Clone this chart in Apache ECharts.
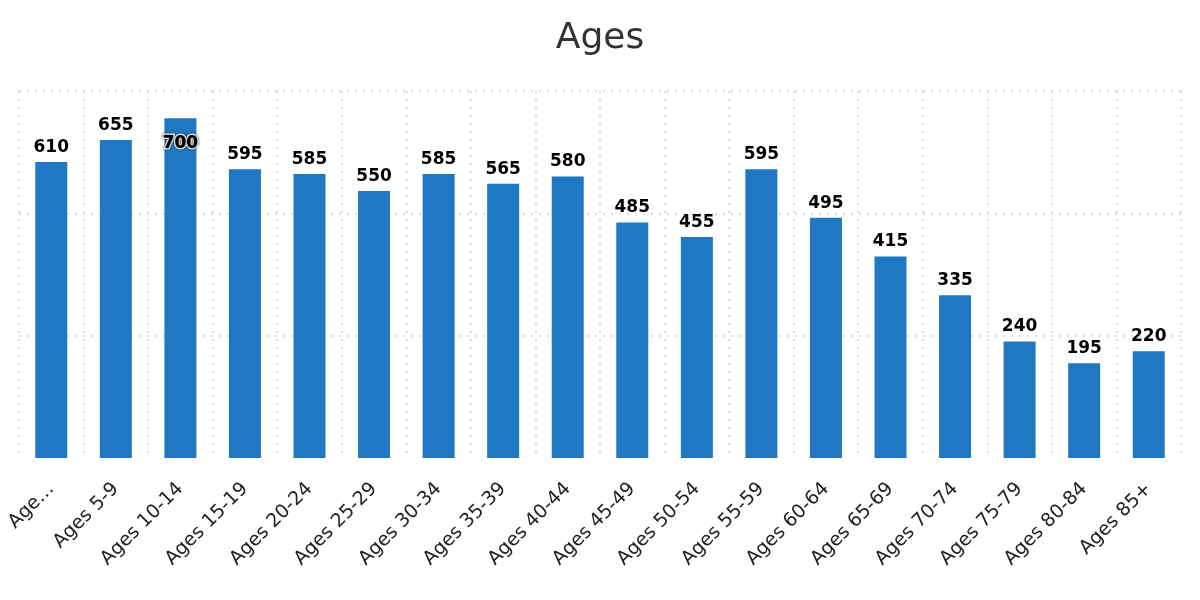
<!DOCTYPE html>
<html>
<head>
<meta charset="utf-8">
<script src="https://cdn.jsdelivr.net/npm/echarts@6/dist/echarts.min.js"></script>
<style>html,body{margin:0;padding:0;background:#fff}#c{width:1200px;height:600px}</style>
</head>
<body>
<div id="c"></div>
<script>
var categories = ['Ages 0-4','Ages 5-9','Ages 10-14','Ages 15-19','Ages 20-24','Ages 25-29','Ages 30-34','Ages 35-39','Ages 40-44','Ages 45-49','Ages 50-54','Ages 55-59','Ages 60-64','Ages 65-69','Ages 70-74','Ages 75-79','Ages 80-84','Ages 85+'];
var tickLabels = ['Age…','Ages 5-9','Ages 10-14','Ages 15-19','Ages 20-24','Ages 25-29','Ages 30-34','Ages 35-39','Ages 40-44','Ages 45-49','Ages 50-54','Ages 55-59','Ages 60-64','Ages 65-69','Ages 70-74','Ages 75-79','Ages 80-84','Ages 85+'];
var values = [610,655,700,595,585,550,585,565,580,485,455,595,495,415,335,240,195,220];
var insideLabelIndex = 2;

var FONT = 'DejaVu Sans';
var dataItems = values.map(function (v, i) {
  if (i === insideLabelIndex) {
    return { value: v, label: { position: 'insideTop', distance: 17, textBorderColor: '#fff', textBorderWidth: 3,
      textShadowColor: 'rgba(0,0,0,0.9)', textShadowBlur: 2 } };
  }
  return v;
});

var chart = echarts.init(document.getElementById('c'), null, { renderer: 'canvas' });
chart.setOption({
  animation: false,
  title: {
    text: 'Ages', left: 'center', top: 16,
    textStyle: { fontFamily: FONT, fontSize: 36, fontWeight: 'normal', color: '#333' }
  },
  grid: { left: 19, right: 19, top: 91, bottom: 142, containLabel: false },
  xAxis: {
    type: 'category',
    data: categories,
    axisLine: { show: true, lineStyle: { color: '#fff', width: 5 } },
    axisTick: { show: false },
    axisLabel: {
      interval: 0, rotate: 45, margin: 28,
      fontFamily: FONT, fontSize: 19, color: '#222',
      formatter: function (v, i) { return tickLabels[i]; }
    },
    splitLine: { show: true, interval: 0, lineStyle: { color: '#ddd', width: 2, type: [2, 6] } }
  },
  yAxis: {
    type: 'value', min: 0, max: 756, interval: 252,
    axisLabel: { show: false },
    axisLine: { show: false },
    axisTick: { show: false },
    splitLine: { show: true, lineStyle: { color: '#ddd', width: 2, type: [2, 6] } }
  },
  series: [{
    type: 'bar',
    data: dataItems,
    barWidth: 32,
    itemStyle: { color: '#1f78c1' },
    label: {
      show: true, position: 'top', distance: 6,
      fontFamily: FONT, fontSize: 17, fontWeight: 'bold', color: '#000'
    }
  }]
});
</script>
</body>
</html>
